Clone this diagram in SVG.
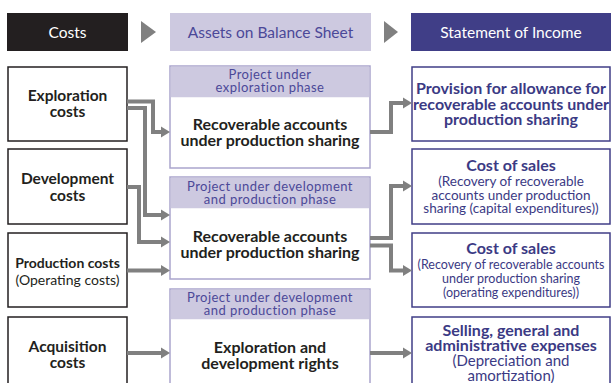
<svg xmlns="http://www.w3.org/2000/svg" width="611" height="383" viewBox="0 0 611 383">
<defs>
<style>
.t{font-family:Lato,"Noto Sans","Liberation Sans",sans-serif;text-anchor:middle}
.cost{fill:#fff;stroke:#231f20;stroke-width:1.5}
.asset{fill:#fff;stroke:#aaa5cd;stroke-width:1.5}
.ahead{fill:#cdc9e0}
.inc{fill:#fff;stroke:#403e87;stroke-width:1.5}
.k{fill:#231f20;font-weight:bold;font-size:15.5px}
.kr{fill:#231f20;font-size:14px}
.h{fill:#4b4898;font-size:13px;letter-spacing:0.45px}
.b{fill:#231f20;font-weight:bold;font-size:16px}
.ib{fill:#3b3a84;font-weight:bold;font-size:16px}
.ir{fill:#3b3a84;font-size:13.5px}
.ir3{fill:#3b3a84;font-size:12.5px}
.ir4{fill:#3b3a84;font-size:15px}
.kp{fill:#231f20;font-weight:bold;font-size:14px}
.c{fill:none;stroke:#808080;stroke-width:4;stroke-linejoin:miter}
</style>
<marker id="ar" markerUnits="userSpaceOnUse" markerWidth="10" markerHeight="12" refX="0" refY="6" orient="auto">
<path d="M0,0.5 L9,6 L0,11.5 z" fill="#808080"/>
</marker>
</defs>
<rect width="611" height="383" fill="#fff"/>
<g id="header">
<rect x="7" y="13" width="121" height="38" fill="#231f20"/>
<text class="t" x="67.5" y="37.5" fill="#fff" font-size="15.5">Costs</text>
<polygon points="141,21 156,32 141,43" fill="#808080"/>
<rect x="170" y="13" width="201" height="38" fill="#cdc9e0"/>
<text class="t" x="270.5" y="37.5" fill="#4b4898" font-size="15.5">Assets on Balance Sheet</text>
<polygon points="384,21 398,32 384,43" fill="#808080"/>
<rect x="411" y="13" width="200" height="38" fill="#403e87"/>
<text class="t" x="511" y="37.5" fill="#fff" font-size="15.5">Statement of Income</text>
</g>
<g id="cost-exploration">
<rect class="cost" x="8" y="67" width="119" height="74"/>
<text class="t k" x="67.5" y="101">Exploration</text>
<text class="t k" x="67.5" y="117">costs</text>
</g>
<g id="cost-development">
<rect class="cost" x="8" y="149" width="119" height="75"/>
<text class="t k" x="67.5" y="184">Development</text>
<text class="t k" x="67.5" y="201">costs</text>
</g>
<g id="cost-production">
<rect class="cost" x="8" y="233" width="119" height="74"/>
<text class="t kp" x="67.5" y="268">Production costs</text>
<text class="t kr" x="67.5" y="285">(Operating costs)</text>
</g>
<g id="cost-acquisition">
<rect class="cost" x="8" y="317" width="119" height="80"/>
<text class="t k" x="67.5" y="352">Acquisition</text>
<text class="t k" x="67.5" y="368">costs</text>
</g>
<g id="asset-1">
<rect class="asset" x="170" y="66" width="200" height="102"/>
<rect class="ahead" x="170.75" y="66.75" width="198.5" height="30.5"/>
<text class="t h" x="270" y="79">Project under</text>
<text class="t h" x="270" y="91.5">exploration phase</text>
<text class="t b" x="270" y="130">Recoverable accounts</text>
<text class="t b" x="270" y="146">under production sharing</text>
</g>
<g id="asset-2">
<rect class="asset" x="170" y="177" width="200" height="102"/>
<rect class="ahead" x="170.75" y="177.75" width="198.5" height="30.5"/>
<text class="t h" x="270" y="191">Project under development</text>
<text class="t h" x="270" y="203.5">and production phase</text>
<text class="t b" x="270" y="242">Recoverable accounts</text>
<text class="t b" x="270" y="258">under production sharing</text>
</g>
<g id="asset-3">
<rect class="asset" x="170" y="289" width="200" height="110"/>
<rect class="ahead" x="170.75" y="289.75" width="198.5" height="29.5"/>
<text class="t h" x="270" y="302">Project under development</text>
<text class="t h" x="270" y="315">and production phase</text>
<text class="t b" x="270" y="353">Exploration and</text>
<text class="t b" x="270" y="369">development rights</text>
</g>
<g id="income-1">
<rect class="inc" x="412" y="67" width="198" height="74"/>
<text class="t ib" x="511" y="94">Provision for allowance for</text>
<text class="t ib" x="511" y="109.5">recoverable accounts under</text>
<text class="t ib" x="511" y="125">production sharing</text>
</g>
<g id="income-2">
<rect class="inc" x="412" y="149" width="198" height="75"/>
<text class="t ib" x="511" y="170.5">Cost of sales</text>
<text class="t ir" x="511" y="186">(Recovery of recoverable</text>
<text class="t ir" x="511" y="199.5">accounts under production</text>
<text class="t ir" x="511" y="213">sharing (capital expenditures))</text>
</g>
<g id="income-3">
<rect class="inc" x="412" y="233" width="198" height="74"/>
<text class="t ib" x="511" y="253.5">Cost of sales</text>
<text class="t ir3" x="511" y="269">(Recovery of recoverable accounts</text>
<text class="t ir3" x="511" y="283">under production sharing</text>
<text class="t ir3" x="511" y="296.5">(operating expenditures))</text>
</g>
<g id="income-4">
<rect class="inc" x="412" y="317" width="198" height="80"/>
<text class="t ib" x="511" y="335.5">Selling, general and</text>
<text class="t ib" x="511" y="351">administrative expenses</text>
<text class="t ir4" x="511" y="365.5">(Depreciation and</text>
<text class="t ir4" x="511" y="380.5">amortization)</text>
</g>
<g id="connectors">
<path class="c" d="M127,101.5 H153 V132 H161" marker-end="url(#ar)"/>
<path class="c" d="M127,108 H145 V215 H161" marker-end="url(#ar)"/>
<path class="c" d="M127,187 H139 V242 H161" marker-end="url(#ar)"/>
<path class="c" d="M127,270.5 H161" marker-end="url(#ar)"/>
<path class="c" d="M127,353 H161" marker-end="url(#ar)"/>
<path class="c" d="M370,132 H391 V103 H403" marker-end="url(#ar)"/>
<path class="c" d="M370,238 H391 V186 H403" marker-end="url(#ar)"/>
<path class="c" d="M370,245.5 H391 V270.5 H403" marker-end="url(#ar)"/>
<path class="c" d="M370,353 H403" marker-end="url(#ar)"/>
</g>
</svg>
